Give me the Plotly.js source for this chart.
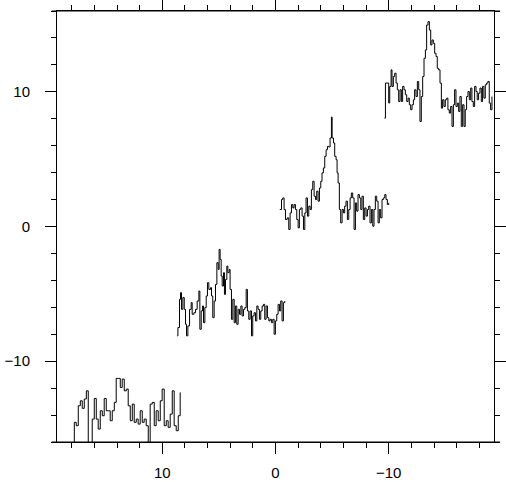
<!DOCTYPE html>
<html>
<head>
<meta charset="utf-8">
<script src="https://cdn.plot.ly/plotly-3.0.1.min.js"></script>
<style>html,body{margin:0;padding:0;background:#fff;}#chart{width:506px;height:482px;}</style>
</head>
<body>
<div id="chart"></div>
<script>
// Spectrum segment A
const velA = [17.95,17.77,17.60,17.42,17.24,17.07,16.89,16.71,16.54,16.36,16.19,16.01,15.83,15.66,15.48,15.30,15.13,14.95,14.77,14.60,14.42,14.24,14.07,13.89,13.71,13.54,13.36,13.18,13.01,12.83,12.65,12.48,12.30,12.13,11.95,11.77,11.60,11.42,11.24,11.07,10.89,10.71,10.54,10.36,10.18,10.01,9.83,9.65,9.48,9.30,9.12,8.95,8.77,8.59,8.42];
const fluxA = [-16.3,-14.54,-14.79,-13.31,-12.94,-13.5,-12.81,-12.2,-16.3,-16.3,-14.3,-12.77,-14.3,-15.04,-13.68,-14.05,-12.77,-13.68,-13.68,-14.42,-13.68,-13.06,-11.28,-11.28,-11.95,-11.33,-12.2,-12.07,-13.31,-14.42,-13.19,-14.54,-14.3,-14.67,-13.68,-14.54,-14.3,-14.79,-16.3,-13.19,-13.06,-14.79,-13.68,-14.42,-12.94,-12.07,-14.79,-14.42,-14.91,-13.93,-12.2,-14.79,-15.16,-14.05,-12.32];

// Spectrum segment B
const velB = [8.68,8.62,8.48,8.39,8.30,8.18,8.06,7.95,7.86,7.74,7.59,7.45,7.36,7.21,7.06,6.92,6.77,6.68,6.56,6.45,6.36,6.24,6.12,6.01,5.89,5.74,5.65,5.54,5.42,5.30,5.18,5.06,4.98,4.89,4.80,4.71,4.59,4.51,4.42,4.30,4.21,4.09,4.01,3.89,3.77,3.65,3.54,3.42,3.30,3.18,3.06,2.95,2.83,2.71,2.59,2.48,2.36,2.24,2.12,2.01,1.89,1.77,1.65,1.54,1.42,1.30,1.18,1.06,0.95,0.83,0.71,0.59,0.48,0.36,0.24,0.12,0.01,-0.11,-0.23,-0.35,-0.46,-0.58,-0.70,-0.82];
const fluxB = [-8.12,-7.5,-5.41,-4.91,-6.15,-5.28,-6.15,-7.26,-8.12,-7.38,-6.15,-5.65,-6.52,-6.40,-6.15,-5.53,-4.79,-7.63,-6.27,-5.9,-7.14,-6.02,-5.16,-4.17,-4.67,-4.54,-5.16,-6.77,-5.53,-4.3,-2.69,-3.19,-1.7,-2.44,-3.68,-4.42,-3.43,-5.04,-3.93,-2.94,-3.43,-3.19,-4.67,-6.89,-5.41,-7.14,-5.9,-7.26,-6.15,-6.52,-5.9,-6.64,-6.15,-6.02,-4.67,-6.27,-6.89,-6.27,-8.12,-6.64,-6.40,-7.01,-5.9,-6.15,-6.89,-6.27,-5.9,-5.78,-6.89,-5.9,-6.77,-7.01,-6.89,-7.14,-6.89,-8.0,-7.01,-6.52,-5.78,-6.27,-5.53,-7.01,-5.65,-5.53];

// Spectrum segment C
const velC = [-0.38,-0.53,-0.64,-0.76,-0.88,-1.03,-1.17,-1.29,-1.41,-1.53,-1.64,-1.76,-1.88,-2.00,-2.11,-2.23,-2.35,-2.47,-2.59,-2.70,-2.82,-2.94,-3.06,-3.17,-3.29,-3.41,-3.53,-3.64,-3.76,-3.88,-4.00,-4.11,-4.23,-4.35,-4.47,-4.59,-4.70,-4.82,-4.94,-5.00,-5.12,-5.23,-5.35,-5.44,-5.53,-5.64,-5.76,-5.88,-6.00,-6.11,-6.23,-6.35,-6.47,-6.59,-6.70,-6.82,-6.94,-7.06,-7.17,-7.29,-7.41,-7.53,-7.64,-7.76,-7.88,-8.00,-8.12,-8.23,-8.35,-8.47,-8.59,-8.70,-8.82,-8.94,-9.06,-9.17,-9.29,-9.41,-9.53,-9.65,-9.76,-9.88,-10.00];
const fluxC = [1.26,2.0,2.12,1.26,0.52,0.64,-0.22,1.01,1.63,1.38,1.63,1.26,0.52,-0.1,1.26,1.38,0.77,-0.22,1.01,2.12,0.77,1.51,1.26,2.74,3.36,2.25,2.0,2.62,1.88,2.86,3.36,3.98,4.35,5.21,5.7,5.95,5.9,6.57,8.12,6.57,6.2,5.21,4.96,3.98,3.23,1.26,0.27,1.26,1.01,1.51,1.88,0.52,1.26,2.12,2.49,2.12,-0.22,1.75,1.14,2.37,2.12,1.26,2.25,0.52,1.38,0.77,1.26,1.51,0.27,1.26,0.02,1.26,2.25,1.88,0.27,1.26,0.64,2.0,2.12,2.37,2.0,1.63,1.75];

// Spectrum segment D
const velD = [-9.62,-9.71,-9.85,-10.00,-10.09,-10.21,-10.29,-10.41,-10.53,-10.65,-10.76,-10.88,-11.00,-11.12,-11.23,-11.35,-11.47,-11.59,-11.71,-11.82,-11.94,-12.06,-12.18,-12.29,-12.41,-12.53,-12.65,-12.76,-12.88,-13.00,-13.12,-13.24,-13.35,-13.47,-13.59,-13.71,-13.82,-13.94,-14.06,-14.18,-14.29,-14.41,-14.53,-14.65,-14.76,-14.88,-15.00,-15.12,-15.23,-15.35,-15.47,-15.59,-15.71,-15.82,-15.94,-16.06,-16.18,-16.29,-16.41,-16.53,-16.65,-16.76,-16.88,-17.00,-17.12,-17.24,-17.35,-17.47,-17.59,-17.71,-17.82,-17.94,-18.06,-18.18,-18.29,-18.41,-18.53,-18.65,-18.76,-18.88,-19.00,-19.12];
const fluxD = [8.05,10.65,10.65,9.17,10.4,11.63,10.4,11.14,11.38,10.65,10.15,9.28,10.15,9.28,10.4,10.15,9.78,9.28,9.53,9.04,8.67,9.04,9.41,10.15,9.65,10.77,10.15,7.8,9.65,11.14,12.49,13.11,14.96,15.21,14.59,13.48,13.85,13.6,12.86,12.62,11.75,11.63,10.65,8.79,9.41,8.91,9.41,9.53,8.67,8.42,8.91,7.43,9.04,10.15,8.91,9.16,8.54,9.65,7.43,9.04,7.43,8.67,9.65,10.02,9.41,10.28,9.28,8.91,10.4,10.02,9.41,9.9,10.28,9.28,10.4,9.53,10.52,10.65,10.77,9.16,8.67,9.65];

const xTickVals = [10, 0, -10];
const yTickVals = [10, 0, -10];

const segs = [[velA, fluxA], [velB, fluxB], [velC, fluxC], [velD, fluxD]];
const traces = segs.map(s => ({
  x: s[0], y: s[1], type: 'scatter', mode: 'lines',
  line: {color: '#000', width: 1, shape: 'hv'},
  hoverinfo: 'skip', showlegend: false
}));

const axisCommon = {
  showgrid: false, zeroline: false, showline: true, linecolor: '#000', linewidth: 1,
  mirror: 'allticks', ticks: 'outside', ticklen: 11, tickwidth: 1, tickcolor: '#000',
  tickfont: {family: 'Liberation Sans, Arial, sans-serif', size: 15, color: '#000'},
  minor: {dtick: 2, ticks: 'outside', ticklen: 5, tickwidth: 1, tickcolor: '#000', showgrid: false}
};

const layout = {
  width: 506, height: 482,
  margin: {l: 57, r: 12, t: 11, b: 40},
  paper_bgcolor: '#fff', plot_bgcolor: '#fff',
  showlegend: false,
  xaxis: Object.assign({}, axisCommon, {
    range: [19.3, -19.3], tickmode: 'array', tickvals: xTickVals, ticktext: xTickVals.map(v => v < 0 ? '\u2212' + (-v) : String(v)),
    ticklabelstandoff: 6
  }),
  yaxis: Object.assign({}, axisCommon, {
    range: [-16, 16], tickmode: 'array', tickvals: yTickVals, ticktext: yTickVals.map(v => v < 0 ? '\u2212' + (-v) : String(v)),
    ticklabelstandoff: 12
  }),
  shapes: [
    {type: 'line', xref: 'paper', yref: 'paper', x0: -0.012, x1: 1.014, y0: 0, y1: 0, line: {color: '#000', width: 1}},
    {type: 'line', xref: 'paper', yref: 'paper', x0: -0.012, x1: 1.014, y0: 1, y1: 1, line: {color: '#000', width: 1}}
  ]
};

Plotly.newPlot('chart', traces, layout, {displayModeBar: false, staticPlot: true});
</script>
</body>
</html>
